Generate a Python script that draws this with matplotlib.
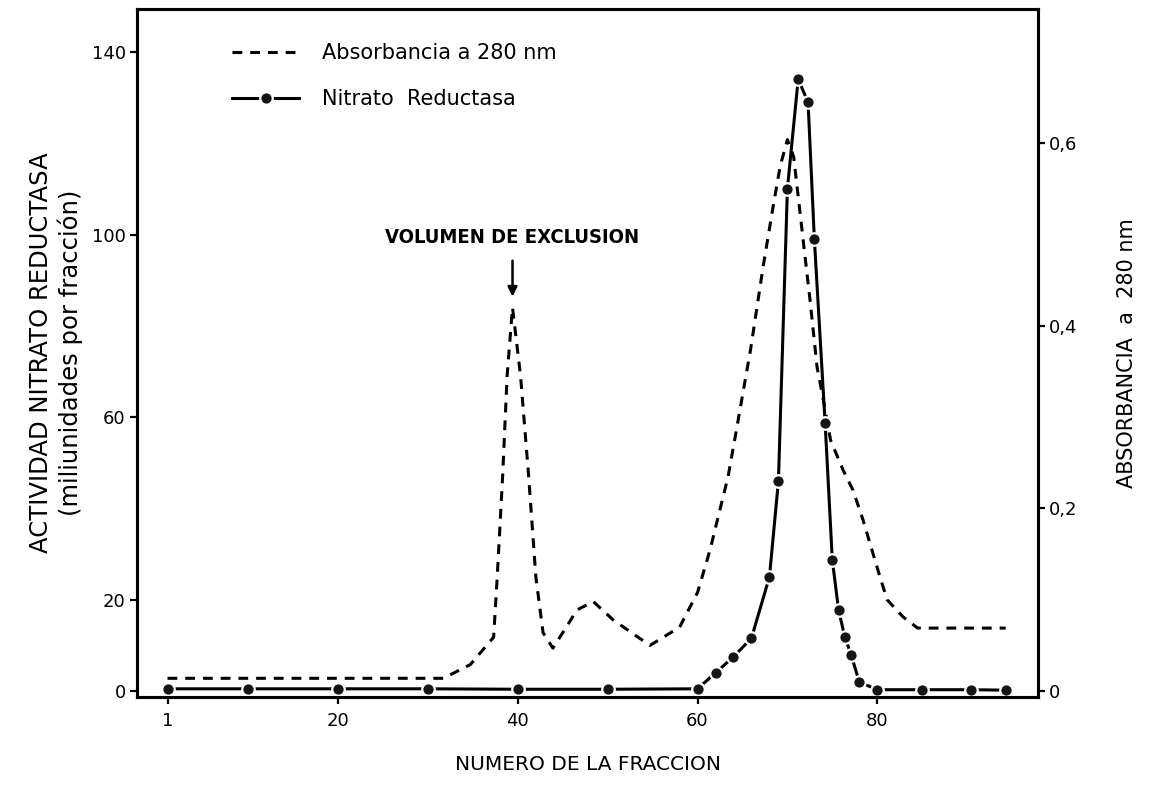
import matplotlib
matplotlib.use("Agg")
import matplotlib.pyplot as plt

# nitrato reductasa (miliunidades por fraccion)
frac_nr = [1, 10, 20, 30, 40, 50, 60, 62, 64, 66, 68, 69, 70, 71.2, 72.3, 73,
           74.2, 75, 75.7, 76.4, 77.1, 78, 80, 85, 90.4, 94.3]
nr = [0.5, 0.5, 0.5, 0.5, 0.4, 0.4, 0.5, 4, 7.5, 11.6, 25, 46, 110, 134, 129, 99,
      58.7, 28.7, 17.7, 11.8, 7.9, 2, 0.3, 0.3, 0.3, 0.2]

# absorbancia a 280 nm
frac_abs = [1, 31.7, 34.7, 37.3, 37.7, 38.3, 38.8, 39.4, 40.3, 41.2, 42, 42.8, 43.9,
            46.6, 48.4, 50.6, 54.7, 58, 60, 61.4, 63.4, 64.2, 65.9, 67.3, 68.4, 69.2,
            70, 70.7, 71.8, 72.5, 73.3, 74, 74.8, 76.2, 77.3, 78.4, 80, 81.1, 82.9,
            84.5, 94.3]
absorb = [0.014, 0.014, 0.029, 0.059, 0.125, 0.235, 0.345, 0.42, 0.345, 0.235, 0.125,
          0.064, 0.047, 0.089, 0.098, 0.078, 0.05, 0.07, 0.108, 0.155, 0.235, 0.279,
          0.374, 0.465, 0.53, 0.575, 0.604, 0.585, 0.49, 0.43, 0.355, 0.319, 0.275,
          0.242, 0.22, 0.188, 0.135, 0.1, 0.081, 0.069, 0.069]

x_ticks = [1, 20, 40, 60, 80]
nr_ticks = [0, 20, 60, 100, 140]
abs_ticks = [0, 0.2, 0.4, 0.6]
abs_ticklabels = ["0", "0,2", "0,4", "0,6"]

plt.rcParams["font.family"] = ["DejaVu Sans"]
fig = plt.figure(figsize=(11.53, 7.90), dpi=100)
ax = fig.add_axes([0.1188, 0.1177, 0.7815, 0.8709])
ax2 = ax.twinx()

ylim = (-1.3, 149.4)
ax.set_ylim(ylim)
ax2.set_ylim(ylim[0] / 200, ylim[1] / 200)
ax.set_xlim(-2.4, 97.9)

l_abs, = ax2.plot(frac_abs, absorb, color="black", lw=2.2, ls=(0, (3.2, 2.6)),
                  label="Absorbancia a 280 nm")
l_nr, = ax.plot(frac_nr, nr, color="black", lw=2.2, marker="o", ms=9,
                mfc="#151515", mec="white", mew=1.6, label="Nitrato  Reductasa")
ax.set_zorder(ax2.get_zorder() + 1)
ax.patch.set_visible(False)

ax.set_xticks(x_ticks)
ax.set_yticks(nr_ticks)
ax2.set_yticks(abs_ticks)
ax2.set_yticklabels(abs_ticklabels)

for a in (ax, ax2):
    for s in a.spines.values():
        s.set_linewidth(2.2)
    a.tick_params(direction="out", length=5, width=1.6, labelsize=13, pad=3)
ax.tick_params(axis="x", pad=6)

ax.set_xlabel("NUMERO DE LA FRACCION", fontsize=14.5, labelpad=18)
ax.set_ylabel("ACTIVIDAD NITRATO REDUCTASA\n(miliunidades por fracción)",
              fontsize=17.5, labelpad=6, linespacing=1.25)
ax2.set_ylabel("ABSORBANCIA  a  280 nm", fontsize=15, labelpad=28)

ax2.annotate("VOLUMEN DE EXCLUSION", xy=(39.4, 0.432), xytext=(39.4, 0.497),
             ha="center", va="center", fontsize=14.5, fontweight="bold",
             fontstretch="condensed",
             arrowprops=dict(arrowstyle="-|>", color="black", lw=1.8,
                             shrinkA=8, shrinkB=0, mutation_scale=14))

ax.legend(handles=[l_abs, l_nr], loc="upper left", bbox_to_anchor=(0.085, 0.978),
          frameon=False, fontsize=15, handlelength=3.2, handletextpad=1.1,
          labelspacing=1.26)

fig.savefig("out.png", dpi=100)
